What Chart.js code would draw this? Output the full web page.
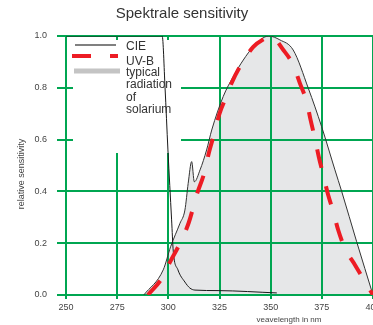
<!DOCTYPE html>
<html>
<head>
<meta charset="utf-8">
<script src="https://cdn.jsdelivr.net/npm/chart.js@4"></script>
<style>
  html, body { margin: 0; padding: 0; background: #fff; overflow: hidden; width: 373px; height: 325px; }
  #wrap { width: 385px; height: 325px; }
</style>
</head>
<body>
<div id="wrap"><canvas id="chart" width="385" height="325"></canvas></div>
<script>
// values
const xTicks = [250, 275, 300, 325, 350, 375, 400];
const xTickLabels = ["250", "275", "300", "325", "350", "375", "400"];
const yTicks = [0, 0.2, 0.4, 0.6, 0.8, 1.0];
const yTickLabels = ["0.0", "0.2", "0.4", "0.6", "0.8", "1.0"];

const cieNm  = [250, 297, 298.4, 299.8, 301.6, 302.4, 304.7, 308.1, 310.5, 313, 324.3, 353];
const cieVal = [1.0, 1.0, 0.8, 0.56, 0.29, 0.17, 0.097, 0.05, 0.027, 0.019, 0.017, 0.008];

const uvbNm  = [290, 296.8, 300.8, 305.7, 310, 314, 317.5, 320, 322.5, 325, 328, 331, 335, 341.5, 347, 350,
                356.2, 361, 364.3, 367.6, 369.5, 371.6, 373.5, 375.7, 378.1, 380.6, 383, 386.3, 391.2, 396.1, 400];
const uvbVal = [0.0, 0.064, 0.127, 0.2, 0.28, 0.39, 0.47, 0.555, 0.625, 0.7, 0.76, 0.82, 0.882, 0.958, 0.99, 1.0,
                0.946, 0.888, 0.817, 0.746, 0.676, 0.605, 0.534, 0.463, 0.386, 0.322, 0.251, 0.18, 0.116, 0.051, 0.0];

const solNm  = [288, 297.5, 301.1, 305.7, 308.1, 309.7, 311.4, 312.7, 315.5, 318.7, 321.2, 326.8, 331.7, 336.6,
                341.5, 349, 354.5, 361, 368.4, 374.9, 381.4, 384.7, 392, 400];
const solVal = [0.0, 0.097, 0.186, 0.277, 0.328, 0.431, 0.515, 0.437, 0.483, 0.56, 0.637, 0.766, 0.843, 0.907,
                0.958, 1.0, 0.985, 0.946, 0.798, 0.65, 0.483, 0.4, 0.206, 0.0];

const font = "'Liberation Sans', Arial, sans-serif";
const green = "#00a651";

function pts(xs, ys) {
  return xs.map((x, i) => ({ x: x, y: ys[i] }));
}

// white legend box, legend, title and axis titles
const overlay = {
  id: "overlay",
  beforeDatasetsDraw(chart) {
    const ctx = chart.ctx;
    const a = chart.chartArea;
    ctx.save();
    ctx.fillStyle = "#fff";
    ctx.fillRect(a.left + 7, a.top + 4, 108, 113);
    ctx.restore();
  },
  afterDraw(chart) {
    const ctx = chart.ctx;
    ctx.save();

    // legend samples
    ctx.lineCap = "butt";
    ctx.strokeStyle = "#808080";
    ctx.lineWidth = 2;
    ctx.beginPath(); ctx.moveTo(75, 45); ctx.lineTo(116, 45); ctx.stroke();

    ctx.strokeStyle = "#ed1c24";
    ctx.lineWidth = 4;
    ctx.setLineDash([19, 19]);
    ctx.beginPath(); ctx.moveTo(72, 56); ctx.lineTo(118, 56); ctx.stroke();
    ctx.setLineDash([]);

    ctx.strokeStyle = "#c4c4c4";
    ctx.lineWidth = 5;
    ctx.beginPath(); ctx.moveTo(74, 71); ctx.lineTo(120, 71); ctx.stroke();

    ctx.fillStyle = "#333";
    ctx.font = "12px " + font;
    ctx.textAlign = "left";
    ctx.textBaseline = "alphabetic";
    ctx.fillText("CIE", 126, 50);
    ctx.fillText("UV-B", 126, 64.5);
    ctx.fillText("typical", 126, 75.5);
    ctx.fillText("radiation", 126, 88);
    ctx.fillText("of", 126, 100.5);
    ctx.fillText("solarium", 126, 113);

    // title
    ctx.font = "15px " + font;
    ctx.textAlign = "center";
    ctx.textBaseline = "middle";
    ctx.fillText("Spektrale sensitivity", 182, 14);

    // x axis title
    ctx.fillStyle = "#444";
    ctx.font = "8px " + font;
    ctx.fillText("veavelength in nm", 289, 320);

    // y axis title
    ctx.font = "9px " + font;
    ctx.translate(22, 174);
    ctx.rotate(-Math.PI / 2);
    ctx.fillText("relative sensitivity", 0, 0);

    ctx.restore();
  }
};

new Chart(document.getElementById("chart"), {
  type: "line",
  data: {
    datasets: [
      {
        label: "UV-B",
        data: pts(uvbNm, uvbVal),
        borderColor: "#ed1c24",
        borderWidth: 4,
        borderDash: [19, 19],
        borderCapStyle: "butt",
        pointRadius: 0,
        cubicInterpolationMode: "monotone",
        fill: false,
        order: 1
      },
      {
        label: "CIE",
        data: pts(cieNm, cieVal),
        borderColor: "#1a1a1a",
        borderWidth: 1,
        pointRadius: 0,
        cubicInterpolationMode: "monotone",
        fill: false,
        order: 2
      },
      {
        label: "typical radiation of solarium",
        data: pts(solNm, solVal),
        borderColor: "#333",
        borderWidth: 1,
        backgroundColor: "#e6e7e8",
        pointRadius: 0,
        cubicInterpolationMode: "monotone",
        fill: "origin",
        order: 3
      }
    ]
  },
  options: {
    responsive: false,
    animation: false,
    devicePixelRatio: 1,
    layout: { padding: { left: 0, top: 36, right: 12, bottom: 0 } },
    plugins: {
      legend: { display: false },
      title: { display: false },
      tooltip: { enabled: false },
      filler: { drawTime: "beforeDraw" }
    },
    scales: {
      x: {
        type: "linear",
        min: 250,
        max: 400,
        afterBuildTicks: (s) => { s.ticks = xTicks.map((v) => ({ value: v })); },
        afterFit: (s) => { s.height = 30; },
        ticks: {
          autoSkip: false,
          maxRotation: 0,
          padding: 3,
          color: "#444",
          font: { family: font, size: 9 },
          callback: (v, i) => xTickLabels[i]
        },
        grid: { color: green, lineWidth: 2, tickLength: 4 },
        border: { color: green, width: 2 }
      },
      y: {
        min: 0,
        max: 1,
        afterBuildTicks: (s) => { s.ticks = yTicks.map((v) => ({ value: v })); },
        afterFit: (s) => { s.width = 66; },
        ticks: {
          autoSkip: false,
          padding: 10,
          color: "#444",
          font: { family: font, size: 9 },
          callback: (v, i) => yTickLabels[i]
        },
        grid: { color: green, lineWidth: 2, tickLength: 9 },
        border: { color: green, width: 2 }
      }
    }
  },
  plugins: [overlay]
});
</script>
</body>
</html>
